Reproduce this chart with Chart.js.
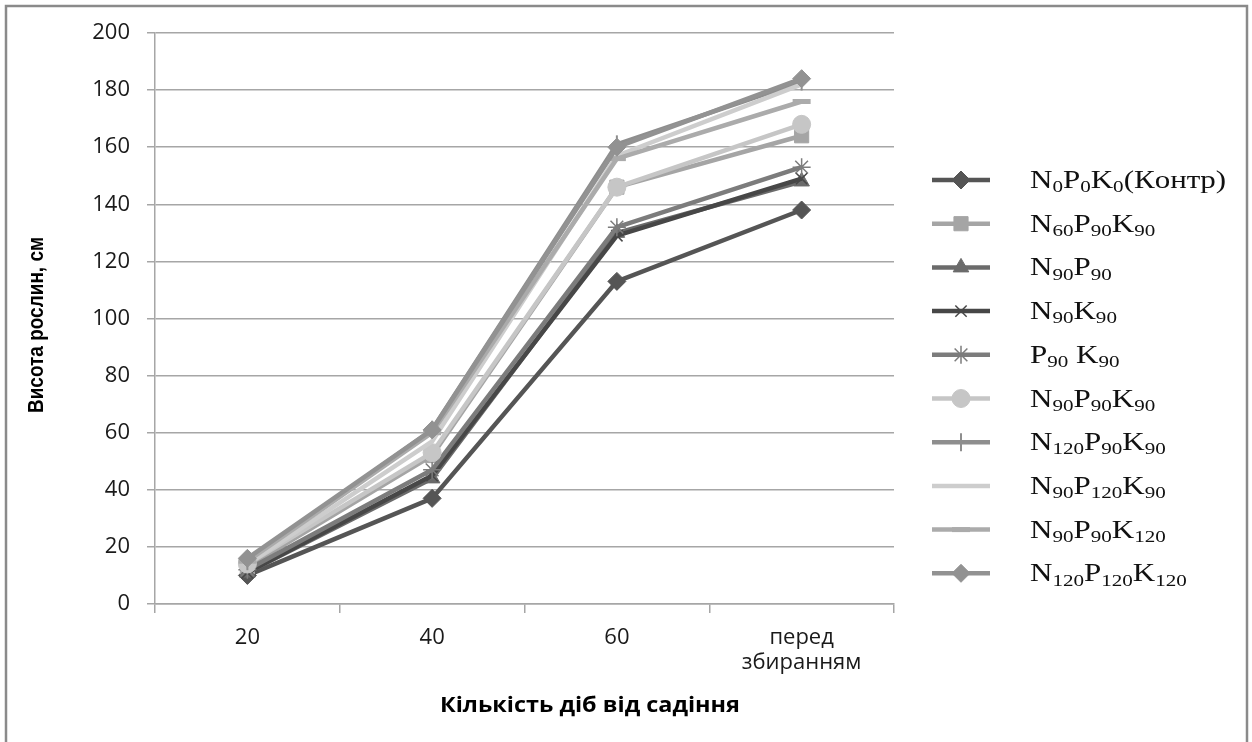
<!DOCTYPE html>
<html><head><meta charset="utf-8">
<script src="https://cdn.jsdelivr.net/npm/chart.js@4.4.1/dist/chart.umd.min.js"></script>
<style>html,body{margin:0;padding:0;background:#fff}#wrap{width:1252px;height:742px;position:relative}</style>
</head><body><div id="wrap"><canvas id="c" width="1252" height="742"></canvas></div>
<script>
// ---- data ----
const categories = ['20', '40', '60', ['перед', 'збиранням']];
const yTicks = [0, 20, 40, 60, 80, 100, 120, 140, 160, 180, 200];
const seriesNames = ['N₀P₀K₀(Контр)', 'N₆₀P₉₀K₉₀', 'N₉₀P₉₀', 'N₉₀K₉₀', 'P₉₀ K₉₀', 'N₉₀P₉₀K₉₀', 'N₁₂₀P₉₀K₉₀', 'N₉₀P₁₂₀K₉₀', 'N₉₀P₉₀K₁₂₀', 'N₁₂₀P₁₂₀K₁₂₀'];
const sN0P0K0     = [10, 37, 113, 138];
const sN60P90K90  = [13, 52, 146, 164];
const sN90P90     = [11, 44, 130, 148];
const sN90K90     = [11, 45, 129, 149];
const sP90K90     = [12, 47, 132, 153];
const sN90P90K90  = [14, 53, 146, 168];
const sN120P90K90 = [15, 61, 161, 183];
const sN90P120K90 = [14, 57, 157, 182];
const sN90P90K120 = [15, 60, 156, 176];
const sN120P120K120 = [16, 61, 160, 184];
const seriesValues = [sN0P0K0, sN60P90K90, sN90P90, sN90K90, sP90K90, sN90P90K90, sN120P90K90, sN90P120K90, sN90P90K120, sN120P120K120];
const xTitle = 'Кількість діб від садіння';
const yTitle = 'Висота рослин, см';

// ---- styles ----
const colors = ['#555555', '#a5a5a5', '#6b6b6b', '#474747', '#7c7c7c', '#c6c6c6', '#8e8e8e', '#cdcdcd', '#ababab', '#929292'];
const pstyles = [
  {pointStyle: 'rectRot', radius: 9, rotation: 0, bw: 1},
  {pointStyle: 'rect', radius: 10, rotation: 0, bw: 1},
  {pointStyle: 'triangle', radius: 9, rotation: 0, bw: 1},
  {pointStyle: 'crossRot', radius: 8, rotation: 0, bw: 1.5},
  {pointStyle: 'star', radius: 9, rotation: 0, bw: 1.5},
  {pointStyle: 'circle', radius: 9, rotation: 0, bw: 1},
  {pointStyle: 'line', radius: 9, rotation: 90, bw: 2},
  {pointStyle: 'circle', radius: 0, rotation: 0, bw: 0},
  {pointStyle: 'line', radius: 9, rotation: 0, bw: 5},
  {pointStyle: 'rectRot', radius: 9, rotation: 0, bw: 1}
];

const n = seriesValues.length;
const datasets = seriesValues.map((vals, i) => ({
  label: seriesNames[i],
  data: vals,
  borderColor: colors[i],
  backgroundColor: colors[i],
  borderWidth: 4.5,
  tension: 0,
  pointStyle: pstyles[i].pointStyle,
  pointRadius: pstyles[i].radius,
  pointRotation: pstyles[i].rotation,
  pointBorderWidth: pstyles[i].bw,
  pointBackgroundColor: colors[i],
  pointBorderColor: colors[i],
  pointHoverRadius: pstyles[i].radius,
  order: n - 1 - i
}));

const SUBS = '₀₁₂₃₄₅₆₇₈₉';

function drawRichText(ctx, text, x, y, size, family, scaleX) {
  ctx.save();
  ctx.translate(x, y);
  ctx.scale(scaleX, 1);
  ctx.textBaseline = 'alphabetic';
  ctx.textAlign = 'left';
  let cx = 0;
  for (const ch of text) {
    const si = SUBS.indexOf(ch);
    if (si >= 0) {
      ctx.font = Math.round(size * 0.66) + 'px ' + family;
      ctx.fillText(String(si), cx, size * 0.17);
      cx += ctx.measureText(String(si)).width;
    } else {
      ctx.font = size + 'px ' + family;
      ctx.fillText(ch, cx, 0);
      cx += ctx.measureText(ch).width;
    }
  }
  ctx.restore();
}

const decor = {
  id: 'decor',
  beforeDraw(chart) {
    const ctx = chart.ctx;
    ctx.save();
    ctx.fillStyle = '#ffffff';
    ctx.fillRect(0, 0, chart.width, chart.height);
    ctx.strokeStyle = '#8a8a8a';
    ctx.lineWidth = 2.5;
    ctx.strokeRect(6, 6, 1241, 760);
    ctx.restore();
  },
  afterDraw(chart) {
    const ctx = chart.ctx;
    ctx.save();
    ctx.fillStyle = '#000';
    // x title
    ctx.font = 'bold 21px "Open Sans"';
    let w = ctx.measureText(xTitle).width;
    let sx = 300 / w;
    ctx.save();
    ctx.translate(590, 712);
    ctx.scale(sx, 1);
    ctx.textAlign = 'center';
    ctx.textBaseline = 'alphabetic';
    ctx.fillText(xTitle, 0, 0);
    ctx.restore();
    // y title
    ctx.font = 'bold 20px "Liberation Sans"';
    w = ctx.measureText(yTitle).width;
    const sy = 176 / w;
    ctx.save();
    ctx.translate(43, 325);
    ctx.rotate(-Math.PI / 2);
    ctx.scale(sy, 1.1);
    ctx.textAlign = 'center';
    ctx.textBaseline = 'alphabetic';
    ctx.fillText(yTitle, 0, 0);
    ctx.restore();
    // legend
    const x0 = 932, x1 = 990, tx = 1030, ry0 = 180, dy = 43.7;
    for (let i = 0; i < n; i++) {
      const y = ry0 + i * dy;
      ctx.strokeStyle = colors[i];
      ctx.lineWidth = 4.5;
      ctx.beginPath();
      ctx.moveTo(x0, y);
      ctx.lineTo(x1, y);
      ctx.stroke();
      const ps = pstyles[i];
      if (ps.radius > 0) {
        ctx.fillStyle = colors[i];
        ctx.strokeStyle = colors[i];
        ctx.lineWidth = ps.bw;
        Chart.helpers.drawPoint(ctx, {pointStyle: ps.pointStyle, rotation: ps.rotation, radius: ps.radius, borderWidth: ps.bw}, (x0 + x1) / 2, y);
      }
      ctx.fillStyle = '#111';
      drawRichText(ctx, seriesNames[i], tx, y + 8, 25, '"Liberation Serif"', 1.24);
    }
    ctx.restore();
  }
};

new Chart(document.getElementById('c'), {
  type: 'line',
  data: {labels: categories, datasets: datasets},
  options: {
    responsive: false,
    devicePixelRatio: 1,
    animation: false,
    layout: {padding: {left: 0, top: 33, right: 358, bottom: 0}},
    plugins: {legend: {display: false}, tooltip: {enabled: false}, title: {display: false}},
    scales: {
      x: {
        type: 'category',
        offset: true,
        grid: {display: true, drawOnChartArea: false, offset: true, drawTicks: true, tickLength: 9, color: '#a6a6a6', lineWidth: 1.5},
        border: {display: true, color: '#a6a6a6', width: 1.5},
        ticks: {color: '#1a1a1a', font: {family: '"Open Sans"', size: 22, lineHeight: 1.15}, padding: 12, maxRotation: 0, autoSkip: false},
        afterFit(scale) { scale.height = 138; }
      },
      y: {
        min: 0, max: 200,
        grid: {color: '#a6a6a6', lineWidth: 1.5, tickLength: 8, drawTicks: true},
        border: {display: true, color: '#a6a6a6', width: 1.5},
        ticks: {color: '#1a1a1a', font: {family: '"Open Sans"', size: 22}, padding: 17},
        afterBuildTicks(scale) { scale.ticks = yTicks.map(v => ({value: v})); },
        afterFit(scale) { scale.width = 155; }
      }
    }
  },
  plugins: [decor]
});
</script></body></html>
